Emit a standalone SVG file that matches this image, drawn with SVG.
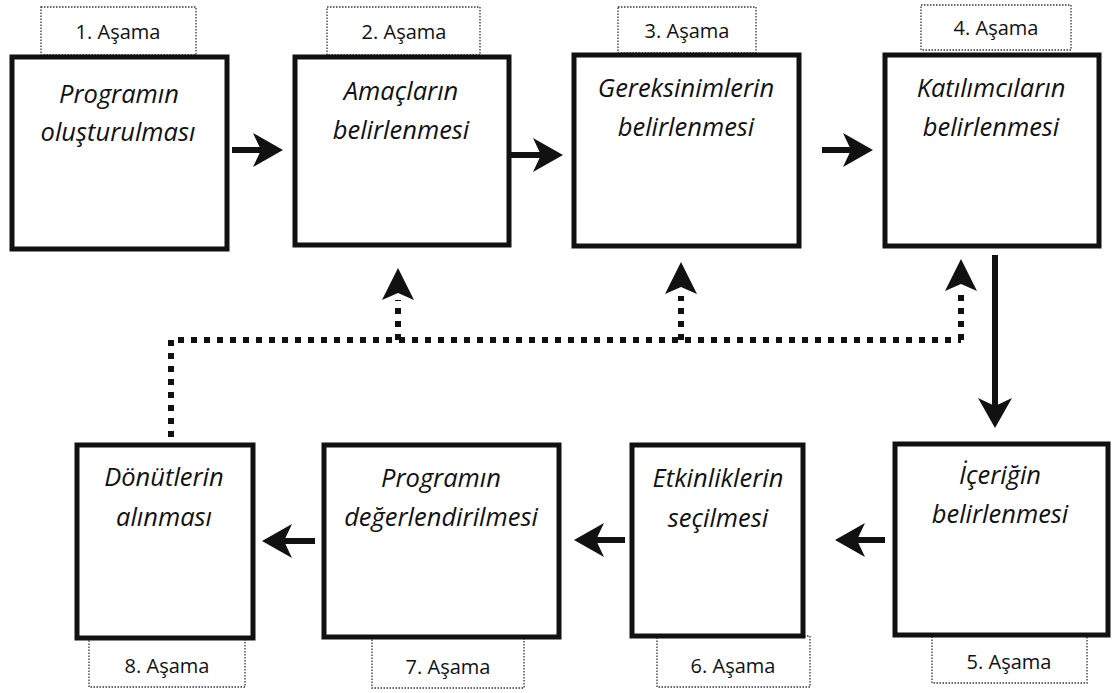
<svg xmlns="http://www.w3.org/2000/svg" width="1113" height="693" viewBox="0 0 1113 693">
<style>
.box{fill:#fff;stroke:#111;stroke-width:5}
.lab{fill:#fff;stroke:#333;stroke-width:1.3;stroke-dasharray:1.5 1.5}
.t{font-family:"Open Sans","Liberation Sans",sans-serif;font-style:italic;font-size:25.5px;fill:#111;text-anchor:middle}
.l{font-family:"Open Sans","Liberation Sans",sans-serif;font-size:20px;fill:#111;text-anchor:middle}
.arr{stroke:#111;stroke-width:6;fill:none}
.dot{stroke:#111;stroke-width:6;fill:none;stroke-dasharray:6 7}
.head{fill:#111}
</style>
<defs>
<marker id="ah" viewBox="0 0 30 34" refX="15" refY="17" markerWidth="30" markerHeight="34" orient="auto" markerUnits="userSpaceOnUse">
<path d="M0,0 L30,17 L0,34 L8,17 Z" fill="#111"/>
</marker>
</defs>
<g id="connectors">
<line class="arr" x1="232" y1="150" x2="268" y2="150" marker-end="url(#ah)"/>
<line class="arr" x1="510" y1="155" x2="548" y2="155" marker-end="url(#ah)"/>
<line class="arr" x1="822" y1="150" x2="858" y2="150" marker-end="url(#ah)"/>
<line class="arr" x1="995" y1="255" x2="995" y2="413" marker-end="url(#ah)"/>
<line class="arr" x1="885" y1="540" x2="850" y2="540" marker-end="url(#ah)"/>
<line class="arr" x1="625" y1="540" x2="589" y2="540" marker-end="url(#ah)"/>
<line class="arr" x1="315" y1="541" x2="277" y2="541" marker-end="url(#ah)"/>
<path class="dot" d="M171,437 V340 H961"/>
<path class="dot" d="M398,340 V300"/>
<path class="dot" d="M681,340 V296"/>
<path class="dot" d="M961,340 V292"/>
<path class="head" d="M398,268 L414,300 L398,293 L382,300 Z"/>
<path class="head" d="M681,262 L697,294 L681,287 L665,294 Z"/>
<path class="head" d="M961,259 L977,291 L961,284 L945,291 Z"/>
</g>
<g id="n1">
<rect class="lab" x="41" y="7" width="155" height="48"/>
<text class="l" x="118" y="39">1. Aşama</text>
<rect class="box" x="12" y="57" width="215" height="192"/>
<text class="t" x="119" y="103">Programın</text>
<text class="t" x="118" y="141">oluşturulması</text>
</g>
<g id="n2">
<rect class="lab" x="327" y="7" width="153" height="48"/>
<text class="l" x="404" y="39">2. Aşama</text>
<rect class="box" x="295" y="57" width="214" height="188"/>
<text class="t" x="401" y="100">Amaçların</text>
<text class="t" x="401" y="139">belirlenmesi</text>
</g>
<g id="n3">
<rect class="lab" x="618" y="7" width="138" height="46"/>
<text class="l" x="687" y="38">3. Aşama</text>
<rect class="box" x="574" y="55" width="225" height="191"/>
<text class="t" x="686" y="97">Gereksinimlerin</text>
<text class="t" x="686" y="136">belirlenmesi</text>
</g>
<g id="n4">
<rect class="lab" x="921" y="5" width="150" height="45"/>
<text class="l" x="996" y="35">4. Aşama</text>
<rect class="box" x="885" y="55" width="214" height="191"/>
<text class="t" x="991" y="97">Katılımcıların</text>
<text class="t" x="991" y="136">belirlenmesi</text>
</g>
<g id="n5">
<rect class="lab" x="932" y="630" width="155" height="53"/>
<text class="l" x="1009" y="669">5. Aşama</text>
<rect class="box" x="895" y="444" width="213" height="191"/>
<text class="t" x="1000" y="484">İçeriğin</text>
<text class="t" x="1000" y="523">belirlenmesi</text>
</g>
<g id="n6">
<rect class="lab" x="657" y="636" width="153" height="51"/>
<text class="l" x="733" y="673">6. Aşama</text>
<rect class="box" x="632" y="445" width="171" height="191"/>
<text class="t" x="718" y="487">Etkinliklerin</text>
<text class="t" x="718" y="527">seçilmesi</text>
</g>
<g id="n7">
<rect class="lab" x="372" y="637" width="152" height="51"/>
<text class="l" x="448" y="674">7. Aşama</text>
<rect class="box" x="324" y="445" width="235" height="192"/>
<text class="t" x="441" y="487">Programın</text>
<text class="t" x="441" y="526">değerlendirilmesi</text>
</g>
<g id="n8">
<rect class="lab" x="89" y="639" width="156" height="48"/>
<text class="l" x="167" y="673">8. Aşama</text>
<rect class="box" x="77" y="445" width="176" height="193"/>
<text class="t" x="164" y="486">Dönütlerin</text>
<text class="t" x="164" y="526">alınması</text>
</g>
</svg>
